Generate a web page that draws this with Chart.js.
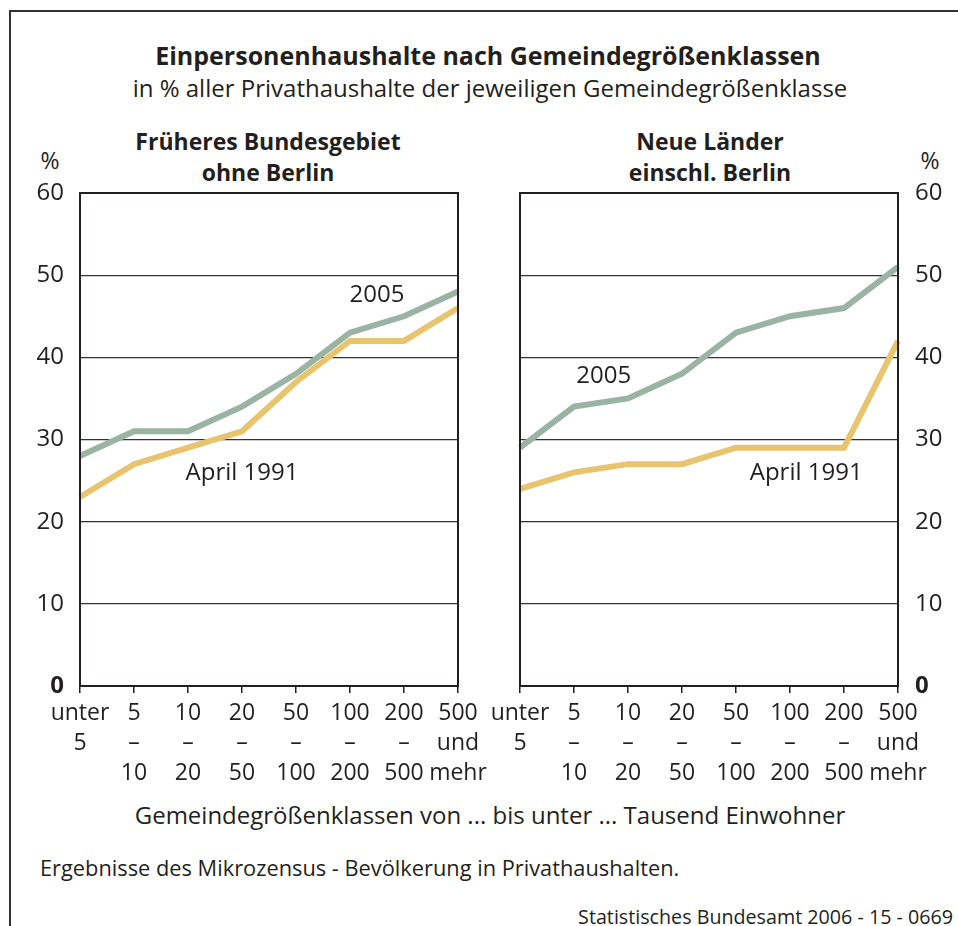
<!DOCTYPE html>
<html><head><meta charset="utf-8">
<script src="https://cdn.jsdelivr.net/npm/chart.js@4.4.1/dist/chart.umd.min.js"></script>
<style>
body{margin:0;background:#fff;width:958px;height:926px;overflow:hidden;position:relative;font-family:"Open Sans",sans-serif;color:#231f20}
#frame{position:absolute;left:9px;top:10px;width:970px;height:940px;border-left:2px solid #333;border-top:2px solid #333}
.t{position:absolute;white-space:nowrap;line-height:30px;height:30px}
.c{text-align:center;width:1000px}
canvas{position:absolute}
</style></head><body>
<div id="frame"></div>
<div class="t c" style="left:-12px;top:40px;font-size:25px;font-weight:bold">Einpersonenhaushalte nach Gemeindegrößenklassen</div>
<div class="t c" style="left:-10px;top:73px;font-size:24px">in % aller Privathaushalte der jeweiligen Gemeindegrößenklasse</div>
<div class="t c" style="left:-232px;top:126px;font-size:23px;font-weight:bold">Früheres Bundesgebiet</div>
<div class="t c" style="left:-232px;top:157px;font-size:23px;font-weight:bold">ohne Berlin</div>
<div class="t c" style="left:210px;top:126px;font-size:23px;font-weight:bold">Neue Länder</div>
<div class="t c" style="left:210px;top:157px;font-size:23px;font-weight:bold">einschl. Berlin</div>
<div class="t c" style="left:-450px;top:145px;font-size:23px">%</div>
<div class="t c" style="left:430px;top:145px;font-size:23px">%</div>
<div class="t c" style="left:-10px;top:800px;font-size:24px">Gemeindegrößenklassen von ... bis unter ... Tausend Einwohner</div>
<div class="t" style="left:40px;top:853px;font-size:21.8px">Ergebnisse des Mikrozensus - Bevölkerung in Privathaushalten.</div>
<div class="t" style="right:5px;top:902px;font-size:19.7px">Statistisches Bundesamt 2006 - 15 - 0669</div>
<canvas id="cl" width="490" height="610" style="left:0;top:180px"></canvas>
<canvas id="cr" width="488" height="610" style="left:470px;top:180px"></canvas>
<script>
// ---- data ----
const categories = [["unter","5",""],["5","–","10"],["10","–","20"],["20","–","50"],["50","–","100"],["100","–","200"],["200","–","500"],["500","und","mehr"]];
const yTicks = [0,10,20,30,40,50,60];
const west2005 = [28,31,31,34,38,43,45,48];
const west1991 = [23,27,29,31,37,42,42,46];
const east2005 = [29,34,35,38,43,45,46,51];
const east1991 = [24,26,27,27,29,29,29,42];
const westLabels = [{text:"2005", x:5.5, y:47.6},{text:"April 1991", x:3.0, y:25.9}];
const eastLabels = [{text:"2005", x:1.55, y:37.7},{text:"April 1991", x:5.3, y:25.9}];
const colors = {y2005:"#9bb3a2", y1991:"#e8c46f"};
const FONT = "'Open Sans', sans-serif";
const TXT = "#231f20";

const boxPlugin = {
  id:'box',
  afterDatasetsDraw(chart){
    const a = chart.chartArea, ctx = chart.ctx;
    ctx.save();
    ctx.strokeStyle = TXT; ctx.lineWidth = 2;
    ctx.strokeRect(a.left, a.top, a.right-a.left, a.bottom-a.top);
    const items = chart.options.plugins.annot.items;
    ctx.fillStyle = TXT; ctx.font = "24px " + FONT;
    ctx.textAlign = 'center'; ctx.textBaseline = 'middle';
    items.forEach(it => {
      ctx.fillText(it.text, chart.scales.x.getPixelForValue(it.x), chart.scales.y.getPixelForValue(it.y));
    });
    ctx.restore();
  }
};

function makeChart(id, d2005, d1991, side, labels){
  const left = side === 'left';
  return new Chart(document.getElementById(id), {
    type:'line',
    data:{
      labels: categories,
      datasets:[
        {label:'April 1991', data:d1991, borderColor:colors.y1991, borderWidth:6, pointRadius:0, tension:0},
        {label:'2005', data:d2005, borderColor:colors.y2005, borderWidth:6, pointRadius:0, tension:0}
      ]
    },
    options:{
      responsive:false, animation:false,
      layout:{padding: left ? {left:0,right:32,top:13,bottom:0} : {left:50,right:0,top:13,bottom:0}},
      plugins:{legend:{display:false}, tooltip:{enabled:false}, annot:{items:labels}},
      scales:{
        x:{
          type:'category', offset:false,
          grid:{drawOnChartArea:false, drawTicks:true, tickLength:7, color:TXT, lineWidth:1.5},
          border:{display:false},
          ticks:{autoSkip:false, maxRotation:0, minRotation:0, padding:5, color:TXT,
                 font:{family:FONT, size:23, lineHeight:'30px'}},
          afterFit(s){ s.height = 104; s.paddingLeft = 0; s.paddingRight = 0; }
        },
        y:{
          position: left ? 'left' : 'right',
          min:0, max:60,
          afterBuildTicks(s){ s.ticks = yTicks.map(v => ({value:v})); },
          grid:{drawTicks:false, color:'#333', lineWidth:1.2},
          border:{display:false},
          ticks:{padding: left ? 16 : 17, color:TXT,
                 font:(c)=>({family:FONT, size:24, weight:(c.tick && c.tick.value===0)?'bold':'normal'})},
          afterFit(s){ s.width = left ? 80 : 60; s.paddingTop = 0; s.paddingBottom = 0; }
        }
      }
    },
    plugins:[boxPlugin]
  });
}
makeChart('cl', west2005, west1991, 'left', westLabels);
makeChart('cr', east2005, east1991, 'right', eastLabels);
</script>
</body></html>
